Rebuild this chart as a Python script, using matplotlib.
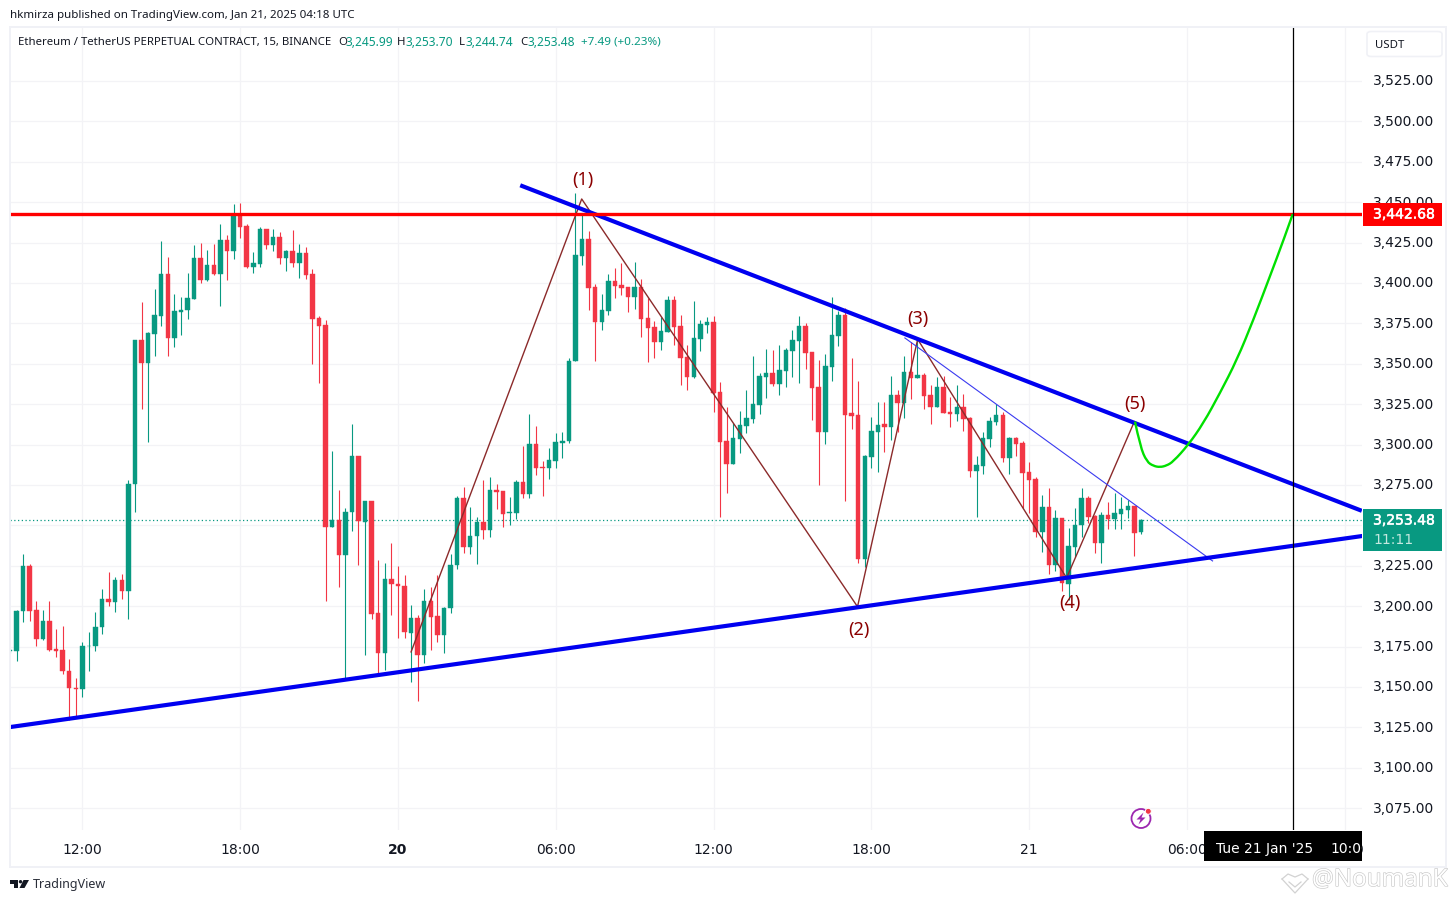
import matplotlib
matplotlib.use('Agg')
from matplotlib import pyplot as plt
from matplotlib.patches import Rectangle, FancyBboxPatch, Circle, Polygon, PathPatch
from matplotlib.path import Path
from matplotlib.lines import Line2D
from matplotlib.transforms import IdentityTransform, ScaledTranslation
import matplotlib.patheffects as pe

W, H = 1456, 902

# 15 minute candles
opens = [3172, 3172, 3196.9, 3224.9, 3197.8, 3179.4, 3190.9, 3173.7, 3173, 3160,
         3149.4, 3148.5, 3175.2, 3175.2, 3186.9, 3204.6, 3202.5, 3216, 3209.3, 3275.5,
         3364.5, 3350.5, 3368.5, 3379.6, 3405.5, 3366, 3382.2, 3383.4, 3390.1, 3415.5,
         3401.8, 3411, 3405.7, 3426.6, 3420, 3441.9, 3435.1, 3409.9, 3411.9, 3433.4,
         3423.6, 3428.4, 3415.7, 3419.7, 3412.5, 3418.4, 3405.5, 3378.2, 3373.8, 3248.8,
         3253.1, 3231.5, 3258.2, 3292.7, 3252, 3265.4, 3195.5, 3170.9, 3217, 3214,
         3212.8, 3183.7, 3192.9, 3169.6, 3203.3, 3194.1, 3182, 3198.7, 3225.3, 3266.8,
         3236.4, 3243.3, 3251.8, 3247.1, 3271.6, 3271, 3257.5, 3257.5, 3276.6, 3269.2,
         3300.1, 3285.9, 3285.5, 3289.7, 3300.9, 3302.1, 3351.5, 3416.7, 3427.2, 3397.5,
         3376, 3382.8, 3401.2, 3398.7, 3397.5, 3391.5, 3397.5, 3378.3, 3372.7, 3363.6,
         3369.8, 3389.4, 3373.3, 3354.1, 3342, 3365.5, 3374.2, 3375.8, 3332.5, 3302.2,
         3288.1, 3303.6, 3311.4, 3316, 3324.6, 3342, 3344.2, 3337.4, 3345.7, 3358.1,
         3364.3, 3373.3, 3357.2, 3335.6, 3307.9, 3348.2, 3367.3, 3380.1, 3319.5, 3318.3,
         3229, 3292.5, 3308, 3312.8, 3311.1, 3330.7, 3326, 3344.9, 3341.4, 3343.1,
         3330.7, 3323.5, 3335.7, 3320, 3319.2, 3323.3, 3316.5, 3283.7, 3287, 3303.7,
         3314.2, 3318.3, 3291.9, 3304.1, 3301, 3282.8, 3278.7, 3246.1, 3261.4, 3225.5,
         3254.6, 3213.9, 3236.8, 3250.2, 3267, 3256, 3239.3, 3256.4, 3254.2, 3257.3,
         3259.7, 3262, 3245.99]
highs = [3173.5, 3197.5, 3232.6, 3226.4, 3203.3, 3197.8, 3203.3, 3186.1, 3187.9, 3167.4,
         3155.8, 3177.9, 3184.1, 3196.7, 3210.8, 3221.4, 3218.2, 3220.2, 3277.8, 3364.5,
         3388.2, 3369.6, 3396.3, 3426, 3415.9, 3393.1, 3391.1, 3406.1, 3423.4, 3424.6,
         3420.4, 3424, 3436.4, 3429.6, 3448.7, 3449.4, 3436.4, 3419.1, 3434.6, 3433.4,
         3433.4, 3431.4, 3420.4, 3432.8, 3424, 3422.1, 3408.7, 3379.4, 3377.4, 3296.3,
         3271.6, 3260.5, 3313, 3292.7, 3265.4, 3265.4, 3228.3, 3227, 3239.4, 3225.1,
         3219.6, 3201, 3194.8, 3210.8, 3212.1, 3219.6, 3199.7, 3232.6, 3268.4, 3273.6,
         3261.2, 3255.4, 3277.8, 3279.8, 3275.4, 3271, 3267.4, 3278.4, 3298.9, 3318.8,
         3311.3, 3290, 3297.7, 3306.9, 3308.1, 3353.3, 3455.5, 3441.9, 3432.2, 3399.3,
         3393.1, 3405.5, 3409.2, 3412.3, 3397.5, 3412.9, 3402.4, 3390.9, 3376.4, 3379.1,
         3391.9, 3391.9, 3380.1, 3361.6, 3388.8, 3377, 3379.1, 3379.5, 3338.7, 3323.4,
         3313.1, 3320.7, 3333.7, 3354.8, 3344.4, 3359.1, 3358.5, 3361.6, 3359.5, 3370.9,
         3379.5, 3375, 3357.2, 3352.3, 3356, 3391.3, 3382.8, 3384.5, 3353.5, 3339.4,
         3293.4, 3317.3, 3326.4, 3326.6, 3342.5, 3333.8, 3354.8, 3363.7, 3365.2, 3344.1,
         3336.9, 3341.6, 3342.5, 3329.3, 3336.7, 3331.3, 3316.9, 3293, 3307.6, 3317.3,
         3324.9, 3320.4, 3304.5, 3304.9, 3302.2, 3289, 3280.2, 3268.8, 3273.1, 3259.5,
         3254.6, 3248.2, 3260.6, 3272.9, 3268.4, 3256.4, 3258.3, 3264.5, 3270.3, 3267.4,
         3265.7, 3262.2, 3253.7]
lows = [3171, 3166.2, 3190.1, 3191.1, 3175.2, 3178.8, 3172.4, 3168.4, 3157.9, 3129.3,
        3130.6, 3143.6, 3160.2, 3172, 3182.7, 3199.9, 3196.3, 3204.2, 3191.9, 3258.2,
        3322, 3301.5, 3354.9, 3373.4, 3354.9, 3360.4, 3367.6, 3377.6, 3390.1, 3400.1,
        3401.3, 3404.7, 3385.8, 3401.8, 3415, 3428, 3409.3, 3406.3, 3409.9, 3421,
        3420, 3411.9, 3407.5, 3409.9, 3403.1, 3402.7, 3349.9, 3338.2, 3203.1, 3248.8,
        3211.6, 3154.9, 3246.5, 3225.3, 3169.6, 3191.9, 3158.8, 3160.6, 3194.3, 3180.1,
        3180.1, 3153.4, 3141.1, 3164.6, 3172.6, 3177.7, 3170.9, 3195.7, 3222.8, 3233,
        3232.1, 3226, 3241.5, 3242.7, 3260.1, 3248.8, 3250.1, 3253.7, 3267, 3267,
        3281.4, 3268, 3278.6, 3285.5, 3291.5, 3300.9, 3351.5, 3411, 3383.4, 3351.9,
        3371.1, 3380.1, 3390.9, 3392.7, 3382.2, 3384.1, 3366.7, 3351.3, 3353.7, 3358.7,
        3369.8, 3361.8, 3336.8, 3333.9, 3341.4, 3358.1, 3369.2, 3320.3, 3255.3, 3270.2,
        3288.1, 3294.9, 3307.3, 3313.1, 3319.1, 3329, 3336.4, 3330.8, 3335.8, 3342,
        3338.3, 3346.7, 3315.2, 3275.1, 3300.3, 3339.5, 3361.2, 3265.2, 3309.8, 3226.5,
        3224.5, 3285.7, 3283.3, 3295.6, 3302.9, 3308, 3316.7, 3328.2, 3341.4, 3322,
        3312.8, 3323.5, 3319.8, 3310.9, 3314.8, 3308.6, 3280.2, 3255.4, 3282, 3298.7,
        3312.1, 3289.2, 3281.8, 3293.2, 3260.6, 3257.5, 3243, 3233.3, 3219.9, 3222,
        3209.6, 3203.8, 3230.6, 3242.6, 3251.7, 3233.1, 3226.9, 3248, 3248, 3248,
        3254.6, 3231.3, 3244.74]
closes = [3173, 3197.1, 3224.9, 3197.3, 3179.4, 3190.9, 3173.2, 3172.4, 3159.6, 3149.1,
          3148.9, 3175.6, 3175.6, 3187.3, 3204.6, 3202.3, 3216, 3209.3, 3275.9, 3364.5,
          3350.5, 3369, 3380, 3405.5, 3366, 3382.6, 3383.6, 3390.5, 3415.5, 3402.1,
          3411, 3405.7, 3426.6, 3420, 3441.9, 3434.9, 3409.9, 3412.3, 3433.4, 3423.6,
          3428.4, 3415.7, 3419.7, 3412.5, 3418.4, 3405.1, 3377.6, 3373.4, 3249, 3253.1,
          3231.5, 3258.6, 3292.7, 3252.9, 3265.4, 3195.1, 3170.9, 3217, 3213.6, 3212.3,
          3183.9, 3192.9, 3169.6, 3203.3, 3193.5, 3182, 3199.1, 3225.8, 3266.8, 3236.4,
          3243.7, 3251.8, 3247.1, 3271.6, 3270.4, 3256.9, 3258, 3276.6, 3269.2, 3300.1,
          3285.5, 3285.5, 3290.2, 3301.3, 3302.5, 3351.5, 3417.1, 3427.2, 3396.9, 3376,
          3383.2, 3401.2, 3398.1, 3397.1, 3391.5, 3397.5, 3377.9, 3372.3, 3363.6, 3370.2,
          3389.4, 3372.9, 3353.7, 3342, 3365.9, 3374.6, 3375.8, 3332.1, 3301.7, 3288.1,
          3304, 3312.1, 3316.4, 3325.1, 3342.4, 3344.2, 3337.4, 3346.1, 3358.5, 3364.7,
          3373.3, 3356.8, 3335.2, 3307.9, 3348.6, 3367.8, 3380.1, 3318.5, 3317.6, 3229.4,
          3293, 3308.4, 3311.9, 3311.1, 3330.7, 3326, 3344.9, 3341.4, 3342.9, 3330.3,
          3323.5, 3335.7, 3319.8, 3319.2, 3323.3, 3316.1, 3283.7, 3287.4, 3304.1, 3314.6,
          3318.3, 3291.9, 3304.1, 3300.6, 3282.6, 3278.1, 3246.1, 3261.4, 3225.7, 3254.6,
          3214.1, 3237.3, 3250.2, 3267, 3255.4, 3239.3, 3256.4, 3254.2, 3257.7, 3260.1,
          3262, 3245.5, 3253.48]

# drawings on the chart (bar number, price)
wave_x = [61, 86.95, 128.9, 138.05, 160.7, 171]
wave_y = [3171.7, 3452, 3199.7, 3365.2, 3217.5, 3314.2]
wave_names = ['(1)', '(2)', '(3)', '(4)', '(5)']
wave_name_x = [87.2, 129.1, 138.1, 161.2, 171.1]
wave_name_y = [3464, 3185, 3378, 3202, 3325]
upper_x = [77.9, 205.3]
upper_y = [3460, 3259.5]
lower_x = [0, 205.6]
lower_y = [3125.2, 3243.4]
thin_x = [136.1, 182.9]
thin_y = [3366, 3228]
green_x = [171.1, 171.9, 172.9, 173.9, 174.9, 175.9, 176.9, 179.2, 181.5, 184, 186.6, 189.1, 191.6, 193.7, 195.1]
green_y = [3314.2, 3298.7, 3289.4, 3286.8, 3286, 3287, 3289.4, 3299.8, 3313.2, 3331.7, 3352.4, 3377.1, 3403.9, 3426.6, 3442.7]
resistance = 3442.68
last_price = 3253.48
cursor_x = 195.1

price_ticks = list(range(3075, 3526, 25))
time_ticks = [11, 35, 59, 83, 107, 131, 155, 179, 203]
time_labels = ['12:00', '18:00', '20', '06:00', '12:00', '18:00', '21', '06:00', '12:00']

UP = '#089981'
DOWN = '#F23645'
GRID = '#F3F3F6'
BORDER = '#F0F1F6'
TEXT = '#131722'
BLUE = '#0000F0'
BROWN = '#8B2A2A'
PURPLE = '#9C27B0'


def fx(px):
    return px / W


def fy(py):
    return 1 - py / H


def label(px, py, s, **kw):
    kw.setdefault('va', 'center')
    kw.setdefault('ha', 'left')
    kw.setdefault('color', TEXT)
    return fig.text(fx(px), fy(py), s, **kw)


def pixel_line(pts, **kw):
    xs = [fx(p[0]) for p in pts]
    ys = [fy(p[1]) for p in pts]
    fig.add_artist(Line2D(xs, ys, transform=fig.transFigure, **kw))


fig = plt.figure(figsize=(W / 100, H / 100), dpi=100, facecolor='white')
ax = fig.add_axes([fx(10), fy(830), (1362 - 10) / W, (830 - 27) / H])
ax.set_xlim(0, (1362 - 10) / 6.575)
ax.set_ylim(3525 - (830 - 81) / 1.616, 3525 + (81 - 27) / 1.616)
for s in ax.spines.values():
    s.set_visible(False)
ax.set_axisbelow(True)
ax.grid(True, color=GRID, lw=0.9)

ax.yaxis.tick_right()
ax.set_yticks(price_ticks)
ax.set_yticklabels([f'{p:,.2f}' for p in price_ticks], fontsize=10, color=TEXT)
ax.set_xticks(time_ticks)
ax.set_xticklabels(time_labels, fontsize=10, color=TEXT)
ax.tick_params(axis='both', length=0)
ax.tick_params(axis='y', pad=8)
ax.tick_params(axis='x', pad=9)
ax.get_xticklabels()[2].set_fontweight('bold')
up_shift = ScaledTranslation(0, 1.2 / 100, fig.dpi_scale_trans)
for t in ax.get_yticklabels():
    t.set_transform(t.get_transform() + up_shift)

ax.axhline(last_price, color=UP, lw=0.9, ls=(0, (1, 2)), zorder=1)

idx = list(range(len(opens)))
cols = [UP if c >= o else DOWN for o, c in zip(opens, closes)]
ax.vlines(idx, lows, highs, colors=cols, lw=0.8, zorder=2)
ax.bar(idx, [abs(c - o) for o, c in zip(opens, closes)], bottom=[min(o, c) for o, c in zip(opens, closes)],
       width=0.68, color=cols, edgecolor=cols, lw=0.3, zorder=3)

ax.plot(wave_x, wave_y, color=BROWN, lw=1.0, zorder=4)
ax.plot(thin_x, thin_y, color='#3A3AF0', lw=0.8, zorder=4)
ax.plot(upper_x, upper_y, color=BLUE, lw=3.0, zorder=5)
ax.plot(lower_x, lower_y, color=BLUE, lw=3.0, zorder=5)
ax.axhline(resistance, color='#FF0000', lw=2.4, zorder=5)

# green path, smoothed through the points that were read
verts = [(green_x[0], green_y[0])]
codes = [Path.MOVETO]
for i in range(1, len(green_x) - 1):
    end = (green_x[-1], green_y[-1]) if i == len(green_x) - 2 else \
        ((green_x[i] + green_x[i + 1]) / 2, (green_y[i] + green_y[i + 1]) / 2)
    verts += [(green_x[i], green_y[i]), end]
    codes += [Path.CURVE3, Path.CURVE3]
ax.add_patch(PathPatch(Path(verts, codes), fill=False, ec='#00E000', lw=1.7, zorder=6))

ax.axvline(cursor_x, color='black', lw=0.9, zorder=6)
for name, nx, ny in zip(wave_names, wave_name_x, wave_name_y):
    ax.text(nx, ny, name, color='#8B0000', fontsize=13, ha='center', va='center',
            family='Noto Sans', zorder=7)

# frame round chart and scales
fig.add_artist(Rectangle((fx(10), fy(866.5)), (1445.5 - 10) / W, (866.5 - 26.5) / H, fill=False,
                         ec=BORDER, lw=1.4, transform=fig.transFigure))

# price and time tags
bold_look = [pe.withStroke(linewidth=0.4, foreground='white')]
fig.add_artist(Rectangle((fx(1363), fy(226)), 79 / W, 23 / H, fc='#FF0000', ec='none',
                         transform=fig.transFigure, zorder=5))
label(1373, 214.5, f'{resistance:,.2f}', color='white', fontsize=10, zorder=6, path_effects=bold_look)
fig.add_artist(Rectangle((fx(1363), fy(551)), 79 / W, 42 / H, fc=UP, ec='none',
                         transform=fig.transFigure, zorder=5))
label(1373, 520.5, f'{last_price:,.2f}', color='white', fontsize=10, zorder=6, path_effects=bold_look)
label(1373, 540, '11:11', color='#C4E8DF', fontsize=10, zorder=6)
black = Rectangle((fx(1204), fy(861)), 158 / W, 30 / H, fc='black', ec='none',
                  transform=fig.transFigure, zorder=5)
fig.add_artist(black)
label(1216, 849, "Tue 21 Jan '25", color='white', fontsize=10, zorder=6)
t = label(1330, 849, '10:00', color='white', fontsize=10, zorder=6)
t.set_clip_path(black)
t.set_clip_on(True)

fig.add_artist(FancyBboxPatch((fx(1367), fy(56.5)), 75 / W, 25 / H, boxstyle='round,pad=0,rounding_size=0.003',
                              fc='white', ec=BORDER, lw=1.2, transform=fig.transFigure))
label(1375, 45.5, 'USDT', fontsize=8.2, family='Noto Sans')

# header lines
label(10, 15.5, 'hkmirza published on TradingView.com, Jan 21, 2025 04:18 UTC', fontsize=8.3, family='Noto Sans')
label(18, 42.5, 'Ethereum / TetherUS PERPETUAL CONTRACT, 15, BINANCE', fontsize=8.2, family='Noto Sans')
for px, s in zip([338, 397, 459, 520], 'OHLC'):
    label(px, 42.5, s, fontsize=8.2, family='Noto Sans')
for px, s in zip([346, 405, 466, 528], ['3,245.99', '3,253.70', '3,244.74', '3,253.48']):
    label(px, 42.5, s, fontsize=8.6, family='Noto Sans', color=UP)
label(581, 42.5, '+7.49 (+0.23%)', fontsize=8.4, family='Noto Sans', color=UP)

# footer
fig.add_artist(Polygon([(fx(10), fy(880)), (fx(18), fy(880)), (fx(18), fy(888)), (fx(14), fy(888)),
                        (fx(14), fy(883.5)), (fx(10), fy(883.5))], fc=TEXT, ec='none', transform=fig.transFigure))
fig.add_artist(Polygon([(fx(23.5), fy(880)), (fx(29), fy(880)), (fx(24.5), fy(888)), (fx(19.5), fy(888))],
                       fc=TEXT, ec='none', transform=fig.transFigure))
fig.add_artist(Circle((20.5, H - 881.7), 1.7, fc=TEXT, ec='none', transform=IdentityTransform()))
label(33, 884.5, 'TradingView', fontsize=9, family='Noto Sans', color='#2A2E39')

wm = label(1312, 880, '@NoumanK', fontsize=17.4, color='white', family='Noto Sans')
wm.set_path_effects([pe.withStroke(linewidth=0.9, foreground='#C8C8C8')])
pixel_line([(1282, 879), (1288, 874), (1295, 877), (1302, 874), (1308, 879)], color='#D2D2D2', lw=0.9)
pixel_line([(1282, 879), (1295, 893), (1308, 879)], color='#D2D2D2', lw=0.9)
pixel_line([(1289, 882), (1295, 887), (1301, 882)], color='#D2D2D2', lw=0.9)

# lightning icon
fig.add_artist(Circle((1141, H - 818.5), 9.5, fc='white', ec=PURPLE, lw=1.3, transform=IdentityTransform()))
fig.add_artist(Polygon([(fx(1143.5), fy(812.5)), (fx(1136.5), fy(819.5)), (fx(1140.5), fy(819.5)),
                        (fx(1138.5), fy(824.5)), (fx(1145.5), fy(817.5)), (fx(1141.5), fy(817.5))],
                       fc=PURPLE, ec='none', transform=fig.transFigure))
fig.add_artist(Circle((1148.3, H - 811.3), 3.0, fc='#F23645', ec='white', lw=0.7, transform=IdentityTransform()))

fig.savefig('out.png', dpi=100)
